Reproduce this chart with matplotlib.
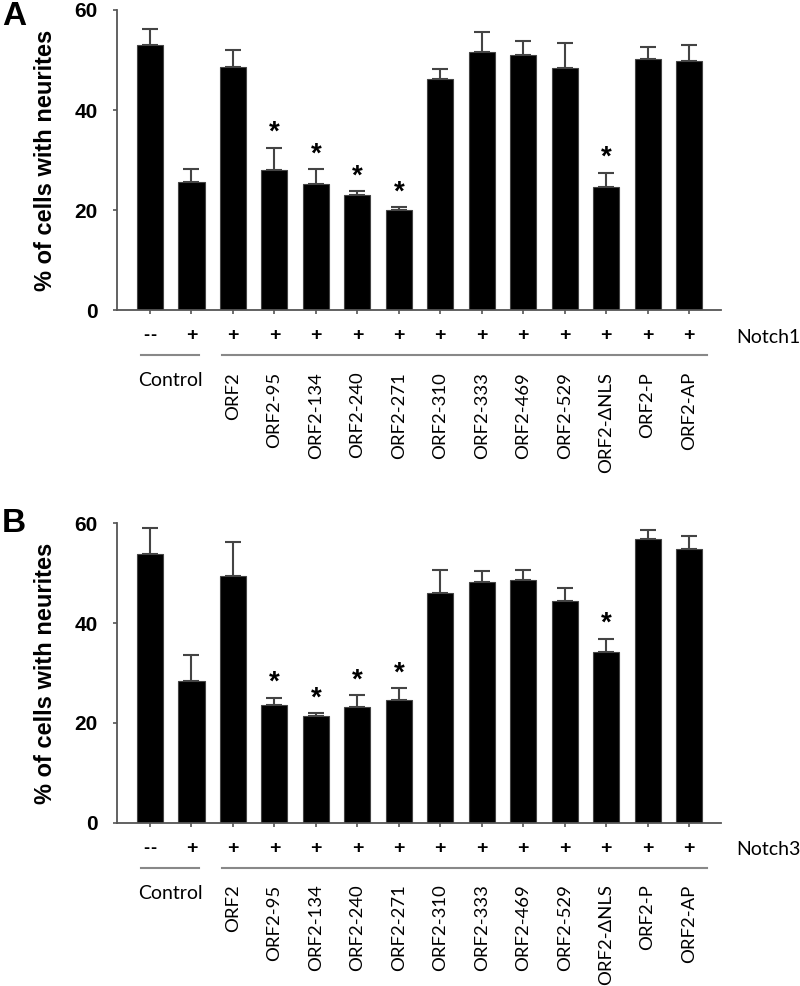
import matplotlib
matplotlib.use("Agg")
import matplotlib.pyplot as plt
import matplotlib.transforms as mtransforms
import numpy as np

# bar labels (ORF2 constructs); first two bars are the controls
constructs = ["ORF2", "ORF2-95", "ORF2-134", "ORF2-240", "ORF2-271",
              "ORF2-310", "ORF2-333", "ORF2-469", "ORF2-529",
              "ORF2-\u0394NLS", "ORF2-P", "ORF2-AP"]
notch_signs = ["--", "+", "+", "+", "+", "+", "+", "+", "+", "+", "+", "+", "+", "+"]

# panel A (Notch1)
means_a = [52.9, 25.5, 48.6, 27.9, 25.1, 22.9, 19.9, 46.2, 51.6, 50.9, 48.3, 24.6, 50.1, 49.7]
errs_a = [3.2, 2.6, 3.3, 4.5, 3.0, 0.8, 0.6, 2.0, 3.9, 2.9, 5.0, 2.8, 2.5, 3.3]
stars_a = [3, 4, 5, 6, 11]

# panel B (Notch3)
means_b = [53.8, 28.3, 49.4, 23.6, 21.3, 23.2, 24.6, 46.0, 48.3, 48.6, 44.5, 34.3, 56.9, 54.8]
errs_b = [5.2, 5.4, 6.8, 1.4, 0.6, 2.3, 2.3, 4.6, 2.1, 2.1, 2.5, 2.6, 1.8, 2.7]
stars_b = [3, 4, 5, 6, 11]

label_font = ["Lato", "DejaVu Sans"]

fig = plt.figure(figsize=(8, 9.86), dpi=100)


def draw_panel(rect, means, errs, stars, notch_name, letter, letter_y):
    ax = fig.add_axes(rect)
    x = np.arange(len(means))
    ax.bar(x, means, width=0.63, color="black", edgecolor="#444444", linewidth=0.8, zorder=2)
    ax.errorbar(x, means, yerr=[np.zeros(len(errs)), errs], fmt="none",
                ecolor="#444444", elinewidth=1.5, capsize=6, capthick=1.5, zorder=1)
    for i in stars:
        ax.annotate("*", xy=(x[i], means[i] + errs[i]), xytext=(0, 11),
                    textcoords="offset points", ha="center", va="center",
                    fontsize=20, fontweight="bold", family="Liberation Sans")

    ax.set_xlim(-0.796, 13.77)
    ax.set_ylim(0, 60)
    ax.set_yticks([0, 20, 40, 60])
    ax.set_xticks(x)
    ax.set_xticklabels([])
    for side in ["top", "right"]:
        ax.spines[side].set_visible(False)
    for side in ["left", "bottom"]:
        ax.spines[side].set_color("#555555")
        ax.spines[side].set_linewidth(1.3)
    ax.tick_params(axis="both", direction="out", length=3, width=1.2, color="#555555")
    ax.tick_params(axis="y", pad=11, labelsize=15)
    for lab in ax.get_yticklabels():
        lab.set_fontweight("bold")
        lab.set_family("Liberation Sans")

    ax.text(-71 / 604, 0.5, "% of cells with neurites", transform=ax.transAxes,
            rotation=90, ha="center", va="center", fontsize=17,
            fontweight="bold", family="Liberation Sans")
    fig.text(2 / 800, letter_y, letter, ha="left", va="top",
             fontsize=24, fontweight="bold", family="Liberation Sans")

    # +/- row and construct labels below the axis
    trans = mtransforms.blended_transform_factory(ax.transData, ax.transAxes)
    for i, s in enumerate(notch_signs):
        if s == "--":
            # two short dashes with a small gap
            for dx in (-2.5, 2.5):
                ax.annotate("-", xy=(x[i], 0), xycoords=trans, xytext=(dx, -18.5),
                            textcoords="offset points", ha="center", va="center",
                            fontsize=13, fontweight="bold", family="Liberation Sans")
        else:
            ax.annotate(s, xy=(x[i], 0), xycoords=trans, xytext=(0, -18.5),
                        textcoords="offset points", ha="center", va="center",
                        fontsize=14, fontweight="bold", family="Liberation Sans")
    ax.annotate(notch_name, xy=(1.025, 0), xycoords="axes fraction", xytext=(0, -19.5),
                textcoords="offset points", ha="left", va="center",
                fontsize=14, family=label_font)
    line_y = -45 / 300
    ax.plot([-0.22, 1.18], [line_y, line_y], transform=trans, color="#888888",
            lw=1.5, clip_on=False)
    ax.plot([1.74, 13.43], [line_y, line_y], transform=trans, color="#888888",
            lw=1.5, clip_on=False)
    ax.annotate("Control", xy=(0.5, 0), xycoords=trans, xytext=(0, -51),
                textcoords="offset points", ha="center", va="center",
                fontsize=14, family=label_font)
    for i, name in enumerate(constructs):
        ax.annotate(name, xy=(x[i + 2], 0), xycoords=trans, xytext=(0, -44.5),
                    textcoords="offset points", ha="center", va="top",
                    rotation=90, fontsize=13.3, family=label_font)
    return ax


draw_panel([117 / 800, 1 - 310 / 986, 604 / 800, 300 / 986],
           means_a, errs_a, stars_a, "Notch1", "A", 1 - 1 / 986)
draw_panel([117 / 800, 1 - 822.7 / 986, 604 / 800, 299.4 / 986],
           means_b, errs_b, stars_b, "Notch3", "B", 1 - 508 / 986)

fig.savefig("out.png", dpi=100)
